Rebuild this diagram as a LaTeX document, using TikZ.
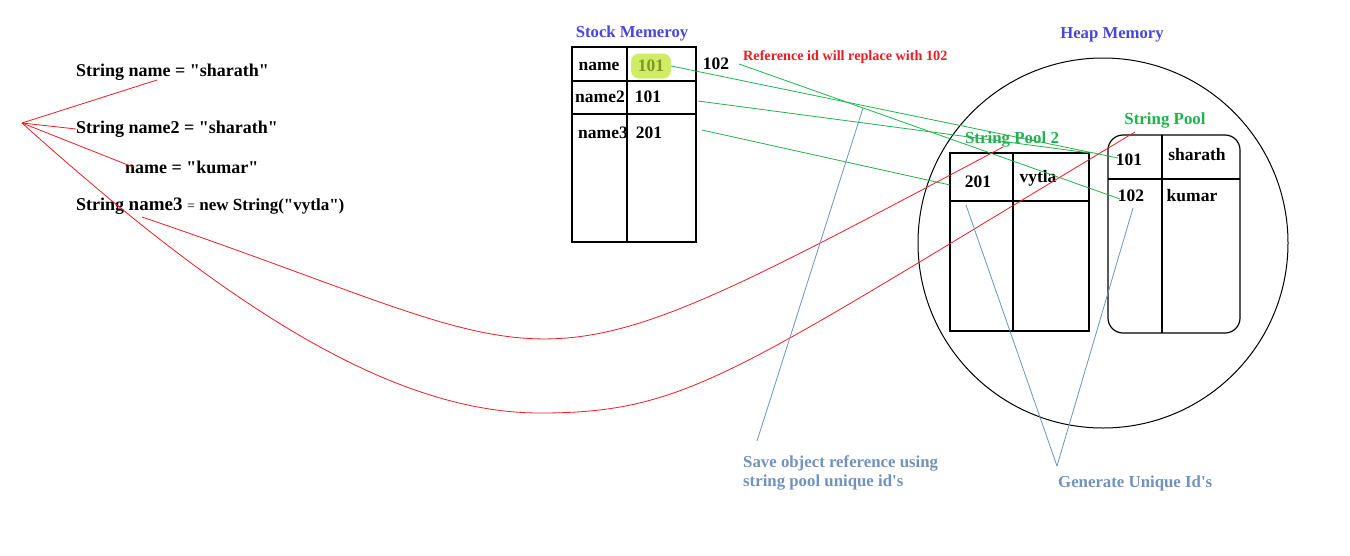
\documentclass[tikz,border=0pt]{standalone}
\usepackage{fontspec}
\setmainfont{Liberation Serif}[Ligatures=TeXOff]
\usetikzlibrary{positioning}

\definecolor{pred}{RGB}{237,28,36}
\definecolor{pgreen}{RGB}{34,177,76}
\definecolor{pblue}{RGB}{112,146,190}
\definecolor{pindigo}{RGB}{72,72,216}
\definecolor{hlfill}{RGB}{208,236,100}
\definecolor{hltext}{RGB}{128,150,40}

\begin{document}
\begin{tikzpicture}[
    x=1pt, y=-1pt,
    every node/.style={inner sep=0pt, font=\bfseries\fontsize{17.5}{20}\selectfont},
    code/.style={anchor=west, font=\bfseries\fontsize{18}{20}\selectfont},
    heading/.style={text=pindigo, font=\bfseries\fontsize{16.7}{20}\selectfont},
    poolname/.style={text=pgreen, font=\bfseries\fontsize{16.9}{20}\selectfont},
    note/.style={text=pblue, align=left, font=\bfseries\fontsize{16.8}{19}\selectfont},
    box/.style={draw, line width=1.2pt},
    redline/.style={pred, line width=0.8pt},
    greenline/.style={pgreen, line width=0.8pt},
    blueline/.style={pblue, line width=0.8pt},
]
\useasboundingbox (0,0) rectangle (1350,555);

% Code lines
\node[code] (code1) at (76,72) {String name = "sharath"};
\node[code] (code2) at (76,129) {String name2 = "sharath"};
\node[code] (code3) at (125,167) {name = "kumar"};
\node[code] (code4) at (76,206) {String {\fontsize{19}{20}\selectfont name3} {\fontsize{14}{16}\selectfont\mdseries=} {\fontsize{17}{20}\selectfont new String("vytla")}};

% Stack memory table
\node[heading] (stacktitle) at (632,34) {Stock Memeroy};
\draw[box] (572,47) rectangle (696,242);
\draw[box] (627,47) -- (627,242);
\draw[box] (572,81) -- (696,81);
\draw[box] (572,114) -- (696,114);
\node (sname) at (599,66) {name};
\node[fill=hlfill, rounded corners=8pt, minimum width=40pt, minimum height=25pt, text=hltext] (sval) at (651,66) {101};
\node (sname2) at (600,97) {name2};
\node (sval2) at (648,97) {101};
\node (sname3) at (603,133) {name3};
\node (sval3) at (649,133) {201};
\node (newid) at (716,64) {102};
\node[code, text=pred, font=\bfseries\fontsize{14.2}{16}\selectfont] (replace) at (743,57) {Reference id will replace with 102};

% Heap memory
\node[heading] (heaptitle) at (1112,35) {Heap Memory};
\node[circle, draw, line width=1pt, minimum size=370pt] (heap) at (1103,243) {};

% String Pool 2
\node[poolname] (pool2title) at (1012,139) {String Pool 2};
\draw[box] (950,153) rectangle (1089,331);
\draw[box] (1013,153) -- (1013,331);
\draw[box] (950,201) -- (1089,201);
\node (p2id) at (978,182) {201};
\node (p2val) at (1038,178) {vytla};

% String Pool
\node[poolname] (pooltitle) at (1165,120) {String Pool};
\draw[box, rounded corners=15pt] (1108,135) rectangle (1240,333);
\draw[box] (1162,135) -- (1162,333);
\draw[box] (1108,179) -- (1240,179);
\node (pid1) at (1129,160) {101};
\node (pval1) at (1197,155) {sharath};
\node (pid2) at (1131,196) {102};
\node (pval2) at (1192,196) {kumar};

% Notes
\node[note, anchor=north west] (savenote) at (743,455) {Save object reference using\\string pool unique id's};
\node[note, anchor=west] (gennote) at (1058,483) {Generate Unique Id's};

% Free ends
\coordinate (apex) at (22,123);
\coordinate (c1foot) at (157,80);
\coordinate (c2foot) at (76,129);
\coordinate (c3foot) at (133,167);
\coordinate (c4foot) at (142,217);
\coordinate (p2top) at (1003,147);
\coordinate (pooltop) at (1135,132);
\coordinate (v2out) at (698,101);
\coordinate (v3out) at (702,130);
\coordinate (newout) at (739,64);
\coordinate (p1in) at (1118,158);
\coordinate (p2corner) at (1090,153);
\coordinate (pid2in) at (1120,199);
\coordinate (p2in) at (950,185);
\coordinate (cross) at (863,108);
\coordinate (savetip) at (757,441);
\coordinate (p2under) at (966,205);
\coordinate (pid2under) at (1133,208);
\coordinate (gentip) at (1057,466);

% Red lines
\draw[redline] (apex) -- (c1foot);
\draw[redline] (apex) -- (c2foot);
\draw[redline] (apex) -- (c3foot);
\draw[redline] (c4foot) .. controls (593,370) and (503,412) .. (p2top);
\draw[redline] (apex) .. controls (222,303) and (390,413) .. (540,413)
    .. controls (690,413) and (735,372) .. (pooltop);

% Green lines
\draw[greenline] (sval.east) -- (p1in);
\draw[greenline] (v2out) -- (p2corner);
\draw[greenline] (newout) -- (pid2in);
\draw[greenline] (v3out) -- (p2in);

% Blue lines
\draw[blueline] (cross) -- (savetip);
\draw[blueline] (p2under) -- (gentip);
\draw[blueline] (pid2under) -- (gentip);
\end{tikzpicture}
\end{document}
